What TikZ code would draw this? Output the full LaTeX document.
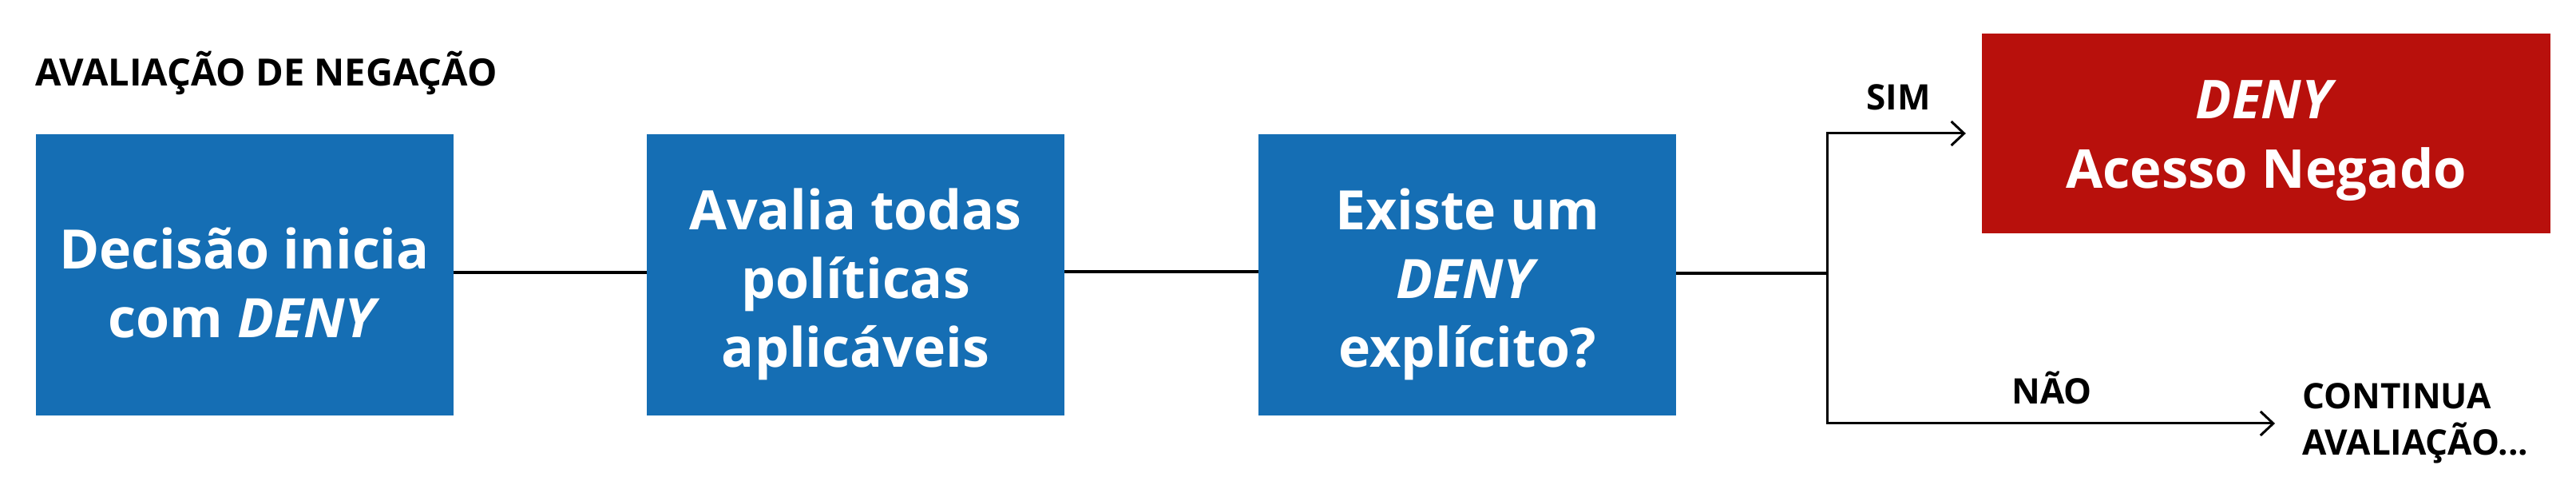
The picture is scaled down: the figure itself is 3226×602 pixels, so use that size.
\documentclass[tikz,border=0pt]{standalone}
\usepackage{fontspec}
\setmainfont{Open Sans}
\usetikzlibrary{arrows.meta}
\definecolor{boxblue}{RGB}{21,110,180}
\definecolor{boxred}{RGB}{184,16,12}
\begin{document}
\begin{tikzpicture}[x=1pt,y=1pt,
  bluebox/.style={fill=boxblue,minimum width=523pt,minimum height=352pt,inner sep=0pt},
  bluetext/.style={text=white,inner sep=0pt,align=center,font=\fontsize{68}{86}\selectfont\bfseries},
  redbox/.style={fill=boxred,minimum width=712pt,minimum height=250pt,inner sep=0pt},
  redtext/.style={text=white,inner sep=0pt,align=center,font=\fontsize{67}{87}\selectfont\bfseries},
  lbl/.style={inner sep=0pt,font=\fontsize{44}{58}\selectfont\bfseries},
  conn/.style={line width=3.5pt},
  arr/.style={line width=3pt,-{Straight Barb[length=16pt,width=30pt,line width=3pt]}}]
\useasboundingbox (0,0) rectangle (3226,602);
\node[lbl,anchor=base west,font=\fontsize{47}{58}\selectfont\bfseries] (title) at (44,494) {AVALIAÇÃO DE NEGAÇÃO};
\node[bluebox] (b1) at (306,258) {};
\node[bluebox] (b2) at (1071.5,258) {};
\node[bluebox] (b3) at (1837.5,258) {};
\node[bluetext] (t1) at ([yshift=-10pt]b1.center) {Decisão inicia\\com \textit{DENY}};
\node[bluetext] (t2) at ([yshift=-12pt]b2.center) {Avalia todas\\políticas\\aplicáveis};
\node[bluetext] (t3) at ([yshift=-12pt]b3.center) {Existe um\\\textit{DENY}\\explícito?};
\node[redbox] (deny) at (2838,435) {};
\node[redtext] (dt) at ([yshift=-9pt]deny.center) {\textit{DENY}\\Acesso Negado};
\node[lbl,anchor=base west] (sim) at (2337,464) {SIM};
\node[lbl,anchor=base west] (nao) at (2519,96) {NÃO};
\node[lbl,anchor=west,align=left] (cont) at (2883,72) {CONTINUA\\AVALIAÇÃO...};
\coordinate (j) at (2288,260);
\draw[conn] ([yshift=3pt]b1.east) -- ([yshift=3pt]b2.west);
\draw[conn] ([yshift=4pt]b2.east) -- ([yshift=4pt]b3.west);
\draw[conn] ([yshift=2pt]b3.east) -- (j);
\draw[arr] (j) |- ([xshift=-20pt]deny.west);
\draw[arr] (j) |- ([xshift=-34pt]cont.west);
\end{tikzpicture}
\end{document}
